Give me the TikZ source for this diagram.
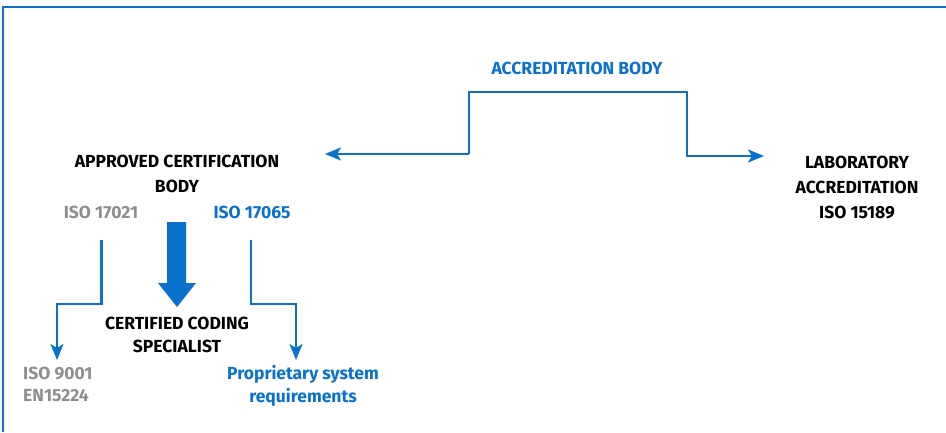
\documentclass[tikz,border=0pt]{standalone}
\usepackage{fontspec}
\setmainfont{Fira Sans}
\usetikzlibrary{arrows.meta}
\definecolor{bblue}{HTML}{0A72CC}
\definecolor{bgray}{HTML}{8E8E8E}
\tikzset{
  lbl/.style={anchor=base, inner sep=0pt, font=\fontsize{17.5}{20}\selectfont\bfseries},
  conn/.style={draw=bblue, line width=2.4pt, -{Stealth[length=16pt,width=13pt,inset=4pt]}},
}
\begin{document}
\begin{tikzpicture}[x=1pt,y=-1pt]
\useasboundingbox[fill=white] (0,0) rectangle (946,432);
% frame
\draw[bblue, line width=2pt] (3,432) -- (3,6.5) -- (946,6.5);
% accreditation
\node[lbl, text=bblue] (acc) at (577,74) {ACCREDITATION BODY};
\coordinate (accl) at (469,154);
\coordinate (accr) at (687,156);
\node[lbl] (app1) at (177,167) {APPROVED CERTIFICATION};
\node[lbl] (app2) at (177,192) {BODY};
\node[lbl, text=bgray] (iso1) at (101,218) {ISO 17021};
\node[lbl, text=bblue] (iso2) at (252,218) {ISO 17065};
\node[lbl] (lab1) at (857,168) {LABORATORY};
\node[lbl] (lab2) at (857,193) {ACCREDITATION};
\node[lbl] (lab3) at (857,218) {ISO 15189};
\node[lbl] (ccs1) at (177,329) {CERTIFIED CODING};
\node[lbl] (ccs2) at (177,352) {SPECIALIST};
\node[lbl, anchor=base west, text=bgray] (is9) at (23,379) {ISO 9001};
\node[lbl, anchor=base west, text=bgray] (en) at (23,401) {EN15224};
\node[lbl, text=bblue] (pr1) at (303,379) {Proprietary system};
\node[lbl, text=bblue] (pr2) at (303,402) {requirements};
\coordinate (tipL) at (325,154);
\coordinate (tipR) at (764,156);
\draw[conn] (accl) -- (469,92) -- (687,92) -- (accr) -- (tipR);
\draw[conn] (accl) -- (tipL);
% big arrow
\fill[bblue] (167,222) -- (186,222) -- (186,283) -- (196,283) -- (177,307) -- (158,283) -- (167,283) -- cycle;
% connectors
\coordinate (l0) at (101.5,240);
\coordinate (l1) at (57,360);
\draw[conn] (l0) -- (101.5,304) -- (57,304) -- (l1);
\coordinate (r0) at (251,240);
\coordinate (r1) at (296,360);
\draw[conn] (r0) -- (251,304) -- (296,304) -- (r1);
\end{tikzpicture}
\end{document}
